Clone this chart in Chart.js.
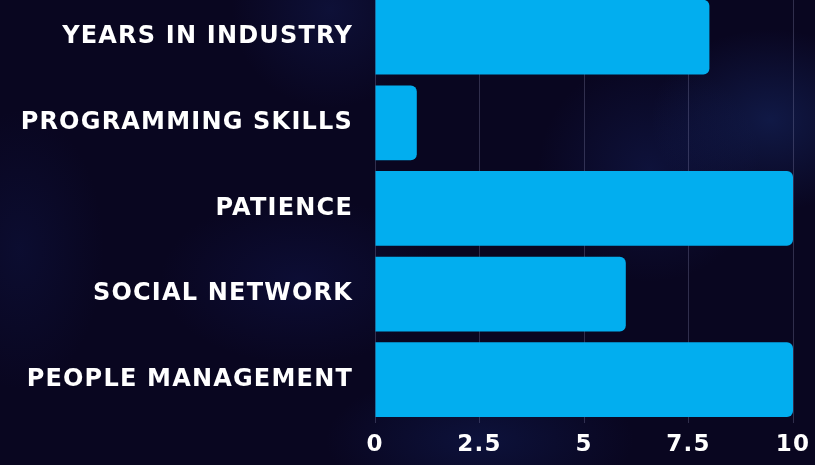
<!DOCTYPE html>
<html>
<head>
<meta charset="utf-8">
<script src="https://cdn.jsdelivr.net/npm/chart.js@4.4.0/dist/chart.umd.min.js"></script>
<style>
  html, body { margin:0; padding:0; width:815px; height:465px; overflow:hidden; }
  body {
    background-color:#090620;
    background-image:
      radial-gradient(ellipse 170px 130px at 770px 120px, rgba(30,60,140,0.35), rgba(30,60,140,0) 70%),
      radial-gradient(ellipse 160px 160px at 650px 170px, rgba(25,45,120,0.3), rgba(25,45,120,0) 70%),
      radial-gradient(ellipse 200px 120px at 300px 280px, rgba(20,30,100,0.3), rgba(20,30,100,0) 70%),
      radial-gradient(ellipse 220px 100px at 480px 440px, rgba(20,40,110,0.35), rgba(20,40,110,0) 70%),
      radial-gradient(ellipse 140px 140px at 330px 10px, rgba(25,40,110,0.3), rgba(25,40,110,0) 70%),
      radial-gradient(ellipse 120px 200px at 20px 250px, rgba(18,30,90,0.28), rgba(18,30,90,0) 70%);
  }
  #wrap { position:absolute; left:0; top:-42.5px; width:815px; height:507.5px; }
</style>
</head>
<body>
<div id="wrap"><canvas id="c"></canvas></div>
<script>
const categories = ["YEARS IN INDUSTRY", "PROGRAMMING SKILLS", "PATIENCE", "SOCIAL NETWORK", "PEOPLE MANAGEMENT"];
const values = [8, 1, 10, 6, 10];
const tickValues = [0, 2.5, 5, 7.5, 10];

const labelFont = { family: "DejaVu Sans", weight: "bold", size: 24 };
const tickFont = { family: "DejaVu Sans", weight: "bold", size: 23 };

const spacingPlugin = {
  id: "spacing",
  beforeLayout(chart) { chart.ctx.letterSpacing = "1.2px"; },
  beforeDraw(chart) { chart.ctx.letterSpacing = "1.2px"; }
};

new Chart(document.getElementById("c"), {
  type: "bar",
  plugins: [spacingPlugin],
  data: {
    labels: categories,
    datasets: [{
      data: values,
      backgroundColor: "#02aeef",
      borderRadius: 6,
      borderSkipped: "start",
      categoryPercentage: 1.0,
      barPercentage: 0.873
    }]
  },
  options: {
    indexAxis: "y",
    responsive: true,
    maintainAspectRatio: false,
    animation: false,
    layout: { padding: { top: 12.5, right: 22, left: 0, bottom: 0 } },
    plugins: { legend: { display: false }, tooltip: { enabled: false } },
    scales: {
      x: {
        min: 0, max: 10,
        afterBuildTicks: (s) => { s.ticks = tickValues.map(v => ({ value: v })); },
        afterFit: (s) => { s.height = 43; s.paddingRight = 0; s.paddingLeft = 0; },
        grid: { color: "rgba(150,150,190,0.28)", lineWidth: 1, drawTicks: false },
        border: { display: false },
        ticks: { color: "#ffffff", font: tickFont, padding: 9, maxRotation: 0, autoSkip: false }
      },
      y: {
        afterFit: (s) => { s.width = 375; },
        grid: { display: false, drawTicks: false },
        border: { display: false },
        ticks: { color: "#ffffff", font: labelFont, padding: 22 }
      }
    }
  }
});
</script>
</body>
</html>
